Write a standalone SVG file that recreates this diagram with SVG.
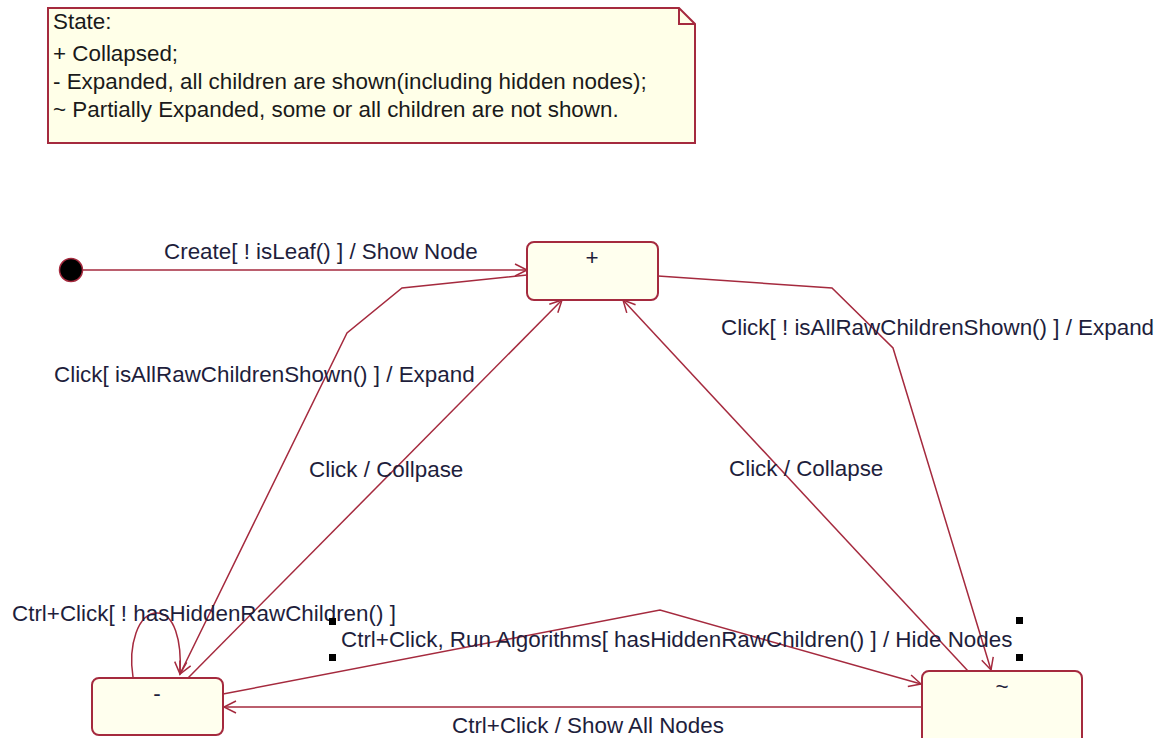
<svg xmlns="http://www.w3.org/2000/svg" width="1161" height="738" viewBox="0 0 1161 738">
  <style>
    .lbl { font-family: "Liberation Sans", Arial, sans-serif; font-size: 22.4px; fill: #1e1e3c; }
    .note-text { font-family: "Liberation Sans", Arial, sans-serif; font-size: 22.4px; fill: #1a1a1a; }
    .state { fill: #FFFFEE; stroke: #A52A3E; stroke-width: 2; }
    .edge { fill: none; stroke: #A52A3E; stroke-width: 1.5; marker-end: url(#open); }
    .edge-plain { fill: none; stroke: #A52A3E; stroke-width: 1.5; }
    .handle { fill: #000; }
  </style>
  <defs>
    <marker id="open" viewBox="-14 -8 16 16" refX="0" refY="0" markerWidth="16" markerHeight="16" markerUnits="userSpaceOnUse" orient="auto">
      <path d="M-12,-6 L0,0 L-12,6" fill="none" stroke="#A52A3E" stroke-width="1.5"/>
    </marker>
  </defs>

  <rect width="1161" height="738" fill="#FFFFFF"/>

  <!-- legend note with folded corner -->
  <g id="note">
    <path d="M48,8 H679 L695,24 V143 H48 Z" fill="#FFFFE8" stroke="#A52A3E" stroke-width="2"/>
    <path d="M679,8 V24 H695" fill="none" stroke="#A52A3E" stroke-width="2"/>
    <text class="note-text" x="53" y="29">State:</text>
    <text class="note-text" x="53" y="61">+ Collapsed;</text>
    <text class="note-text" x="53" y="89">- Expanded, all children are shown(including hidden nodes);</text>
    <text class="note-text" x="53" y="117">~ Partially Expanded, some or all children are not shown.</text>
  </g>

  <!-- connectors -->
  <g id="connectors">
    <!-- initial transition -->
    <path class="edge" d="M80,270 H527"/>
    <text class="lbl" x="164" y="259">Create[ ! isLeaf() ] / Show Node</text>

    <!-- + to - : expand when all raw children shown -->
    <path class="edge" d="M527,275 L402,288 L347,333 L180,674"/>
    <text class="lbl" x="54" y="382">Click[ isAllRawChildrenShown() ] / Expand</text>

    <!-- - to + : collapse -->
    <path class="edge" d="M188,678 L562,300"/>
    <text class="lbl" x="309" y="477">Click / Collpase</text>

    <!-- ~ to + : collapse -->
    <path class="edge" d="M968,671 L623,300"/>
    <text class="lbl" x="729" y="476">Click / Collapse</text>

    <!-- + to ~ : expand when not all raw children shown -->
    <path class="edge" d="M658,276 L832,288 L893,348 L991,670"/>
    <text class="lbl" x="721" y="335">Click[ ! isAllRawChildrenShown() ] / Expand</text>

    <!-- - self loop -->
    <path class="edge" d="M133,677 C128,645 138,613 157,613 C174,613 182,640 180,674"/>
    <text class="lbl" x="12" y="621">Ctrl+Click[ ! hasHiddenRawChildren() ]</text>

    <!-- - to ~ : hide nodes -->
    <path class="edge" d="M223,694 L660,610 L921,684"/>
    <text class="lbl" x="341" y="647">Ctrl+Click, Run Algorithms[ hasHiddenRawChildren() ] / Hide Nodes</text>

    <!-- ~ to - : show all nodes -->
    <path class="edge" d="M922,707 H224"/>
    <text class="lbl" x="452" y="733">Ctrl+Click / Show All Nodes</text>

    <!-- selection handles on the hide-nodes label -->
    <rect class="handle" x="329" y="618" width="7" height="7"/>
    <rect class="handle" x="329" y="654" width="7" height="7"/>
    <rect class="handle" x="1016" y="617" width="7" height="7"/>
    <rect class="handle" x="1016" y="654" width="7" height="7"/>
  </g>

  <!-- initial pseudo-state -->
  <g id="initial">
    <circle cx="71" cy="270" r="11.5" fill="#000" stroke="#A52A3E" stroke-width="1.5"/>
  </g>

  <!-- collapsed -->
  <g id="state-collapsed">
    <rect class="state" x="527" y="242" width="131" height="58" rx="7"/>
    <text class="lbl" x="592" y="265" text-anchor="middle">+</text>
  </g>

  <!-- expanded -->
  <g id="state-expanded">
    <rect class="state" x="92" y="678" width="131" height="57" rx="7"/>
    <text class="lbl" x="157" y="701" text-anchor="middle">-</text>
  </g>

  <!-- partially expanded -->
  <g id="state-partial">
    <rect class="state" x="922" y="671" width="160" height="80" rx="7"/>
    <text class="lbl" x="1002" y="694" text-anchor="middle">~</text>
  </g>
</svg>
